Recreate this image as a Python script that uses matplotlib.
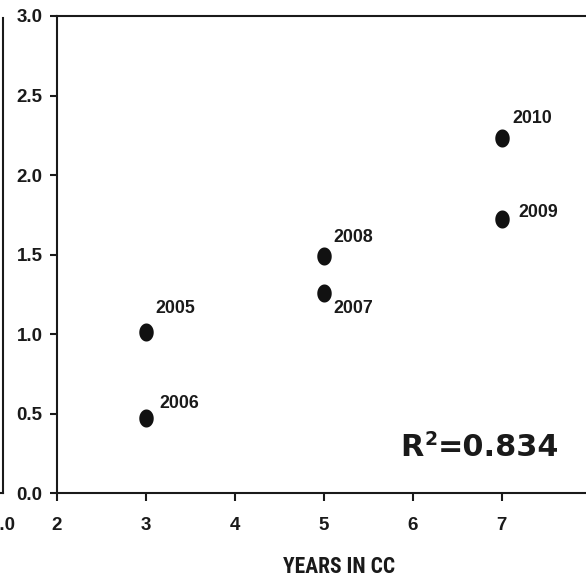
import numpy as np
import matplotlib
matplotlib.use("Agg")
import matplotlib.pyplot as plt
from matplotlib.path import Path
from matplotlib import font_manager as fm

# ---- data ----
years_in_cc = [3, 3, 5, 5, 7, 7]
values = [1.015, 0.476, 1.26, 1.494, 1.723, 2.233]
year_labels = ["2005", "2006", "2007", "2008", "2009", "2010"]
x_ticks = [2, 3, 4, 5, 6, 7, 8]
y_ticks = [0.0, 0.5, 1.0, 1.5, 2.0, 2.5, 3.0]
x_label = "YEARS IN CC"
r2_parts = ["R", "2", "=0.834"]
left_panel_ticks = [1.0]
left_panel_ticklabels = ["1.0"]

# label offsets in pixels (dx right, dy down) -- styling only
label_offsets_px = [(10, -19), (14, -10), (10, 20.6), (10, -14), (16.7, -2.6), (11, -15)]

fonts = fm.fontManager.ttflist
names = {f.name for f in fonts}
narrow = None
for cand in ["Liberation Sans Narrow", "Arial Narrow", "Roboto Condensed",
             "DejaVu Sans Condensed", "Open Sans Condensed"]:
    if cand in names:
        narrow = cand
        break
if narrow is None:
    cond = sorted(n for n in names if ("Narrow" in n or "Condensed" in n))
    narrow = cond[0] if cond else "Liberation Sans"

r2_font = "DejaVu Sans"

plt.rcParams["font.family"] = ["Liberation Sans", "DejaVu Sans"]

W, H = 586, 584
fig = plt.figure(figsize=(W / 100, H / 100), dpi=100)
fig.patch.set_facecolor("white")

ink = "#1a1a1a"
lw = 1.5

ax = fig.add_axes([56.7 / W, (H - 493.3) / H, 6.3 * 89 / W, 477.3 / H])
ax.set_xlim(2, 8.3)
ax.set_ylim(0, 3.0)
for s in ["left", "bottom", "top"]:
    ax.spines[s].set_linewidth(lw)
    ax.spines[s].set_color(ink)
ax.spines["right"].set_visible(False)
ax.set_xticks(x_ticks)
ax.set_xticklabels([str(t) for t in x_ticks])
ax.set_yticks(y_ticks)
ax.set_yticklabels([f"{t:.1f}" for t in y_ticks])
ax.tick_params(axis="x", direction="out", length=5.8, width=lw, color=ink, pad=11.0,
               labelsize=13.5, labelcolor=ink)
ax.tick_params(axis="y", direction="out", length=5.0, width=lw, color=ink, pad=5.3,
               labelsize=13.5, labelcolor=ink)
for lab in ax.get_xticklabels() + ax.get_yticklabels():
    lab.set_fontweight("bold")

theta = np.linspace(0, 2 * np.pi, 80)
ell = Path(np.column_stack([0.80 * np.cos(theta), np.sin(theta)]), closed=True)
ax.plot(years_in_cc, values, linestyle="none", marker=ell, markersize=13.0,
        color="#111111", markeredgewidth=0, clip_on=False)

for xv, yv, lab, (dx, dy) in zip(years_in_cc, values, year_labels, label_offsets_px):
    ax.annotate(lab, (xv, yv), xytext=(dx * 0.72, -dy * 0.72), textcoords="offset points",
                ha="left", va="baseline", fontsize=12.8, fontweight="bold", color=ink)

# R^2 annotation built from three real text pieces
t1 = ax.text(0.613, 0.078, r2_parts[0], transform=ax.transAxes, ha="left", va="baseline",
             fontsize=21.8, fontweight="bold", family=r2_font, color=ink)
t2 = ax.annotate(r2_parts[1], xy=(1, 1), xycoords=t1, xytext=(0.3, 2.4),
                 textcoords="offset points", ha="left", va="top",
                 fontsize=13.5, fontweight="bold", family=r2_font, color=ink)
t3 = ax.annotate(r2_parts[2], xy=(1, 0), xycoords=(t2, t1), xytext=(0.2, 0),
                 textcoords="offset points", ha="left", va="bottom",
                 fontsize=21.8, fontweight="bold", family=r2_font, color=ink)

fig.text(339 / W, 1 - 566.7 / H, x_label, ha="center", va="center",
         fontsize=15.5, fontweight="bold", family=narrow, color=ink)

# remnant of the neighbouring panel on the left
axl = fig.add_axes([-0.5, (H - 493.3) / H, 0.5 + 2.5 / W, 475.3 / H])
axl.set_xlim(0, 1.0)
axl.set_ylim(0, 3.0)
axl.patch.set_alpha(0)
for s in ["left", "top"]:
    axl.spines[s].set_visible(False)
for s in ["right", "bottom"]:
    axl.spines[s].set_linewidth(lw)
    axl.spines[s].set_color(ink)
axl.set_yticks([])
axl.set_xticks(left_panel_ticks)
axl.set_xticklabels(left_panel_ticklabels)
axl.tick_params(axis="x", length=0, pad=16.8, labelsize=13.5, labelcolor=ink)
for lab in axl.get_xticklabels():
    lab.set_fontweight("bold")

fig.savefig("out.png", dpi=100, facecolor="white")
